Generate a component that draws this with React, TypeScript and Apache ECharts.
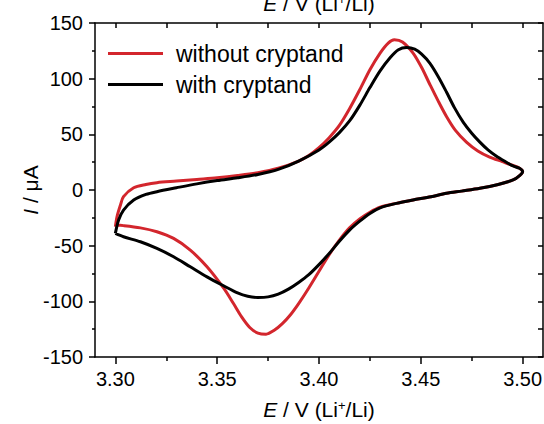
import React, { useEffect, useRef } from "react";
import * as echarts from "echarts";

const FONT = "'Liberation Sans', Arial, Helvetica, sans-serif";

// Potential axis ticks (V vs Li+/Li)
const xMajorTicks = [3.3, 3.35, 3.4, 3.45, 3.5];
const xMinorTicks = [3.325, 3.375, 3.425, 3.475];
const xAllTicks = [3.3, 3.325, 3.35, 3.375, 3.4, 3.425, 3.45, 3.475, 3.5];

const seriesNames = ["without cryptand", "with cryptand"];
const seriesColors = ["#d3262d", "#000000"];

// Cyclic voltammograms: [E / V, I / µA]
// Without cryptand: anodic sweep 3.30 -> 3.50 V
const redForward: [number, number][] = [
  [3.3, -33], [3.3008, -24], [3.3025, -13.5], [3.304, -6], [3.309, 2],
  [3.315, 5], [3.3204, 6.6], [3.33, 8], [3.34, 9.5], [3.35, 11],
  [3.36, 13], [3.37, 15.5], [3.38, 19.5], [3.39, 26], [3.395, 31],
  [3.4, 38], [3.405, 47], [3.41, 58], [3.415, 73], [3.42, 90],
  [3.425, 108], [3.43, 123], [3.434, 132], [3.437, 135], [3.441, 133],
  [3.4462, 123], [3.4504, 110], [3.4544, 95], [3.4585, 80], [3.4626, 66],
  [3.467, 53.5], [3.4724, 43], [3.478, 35], [3.4838, 29.5], [3.49, 25.5],
  [3.4953, 22], [3.4985, 19.5], [3.5, 16.5],
];
// Without cryptand: cathodic sweep 3.50 -> 3.30 V
const redReverse: [number, number][] = [
  [3.4985, 13], [3.4953, 9], [3.488, 5], [3.479, 1.5], [3.47, -1],
  [3.4626, -3], [3.455, -6], [3.4462, -9], [3.438, -12], [3.43, -15.5],
  [3.425, -20], [3.42, -26], [3.415, -34], [3.41, -45], [3.405, -58],
  [3.4, -73], [3.395, -88], [3.39, -102], [3.386, -112], [3.382, -120],
  [3.378, -126], [3.374, -129.5], [3.37, -128.5], [3.366, -123.5], [3.362, -114],
  [3.358, -102], [3.3531, -88], [3.345, -69], [3.3368, -54], [3.3286, -43.5],
  [3.3204, -37.5], [3.3123, -34], [3.304, -32], [3.3, -31.5],
];
// With cryptand: anodic sweep
const blackForward: [number, number][] = [
  [3.3, -39], [3.3016, -27], [3.304, -18], [3.309, -9], [3.315, -4],
  [3.3204, -1.5], [3.33, 2], [3.34, 5.5], [3.35, 8.5], [3.36, 11],
  [3.37, 14], [3.38, 18.5], [3.39, 26], [3.4, 36], [3.405, 43],
  [3.41, 51.5], [3.415, 62], [3.42, 76], [3.425, 92], [3.43, 107],
  [3.435, 119], [3.439, 126], [3.443, 128], [3.447, 126.5], [3.4504, 122],
  [3.4544, 114], [3.4585, 102], [3.4626, 88], [3.4665, 74], [3.4708, 61],
  [3.475, 51], [3.479, 43], [3.483, 36], [3.487, 30.5], [3.491, 26],
  [3.4953, 21.6], [3.4985, 19.5], [3.5, 16.5],
];
// With cryptand: cathodic sweep
const blackReverse: [number, number][] = [
  [3.4985, 13], [3.4953, 9], [3.488, 5], [3.479, 1.5], [3.47, -1],
  [3.4626, -3], [3.455, -6], [3.4462, -9], [3.438, -12], [3.43, -16],
  [3.425, -21], [3.42, -28], [3.415, -36], [3.41, -46], [3.405, -57],
  [3.4, -67], [3.395, -76], [3.39, -83], [3.385, -89], [3.38, -93.5],
  [3.375, -96], [3.37, -96.5], [3.365, -95.5], [3.36, -92.5], [3.3531, -86],
  [3.345, -78], [3.3368, -69], [3.3286, -60], [3.3204, -52.5], [3.3123, -46.5],
  [3.304, -42], [3.3, -39],
];

const X_MIN = 3.29;
const X_MAX = 3.51;

const lineStyle = { color: "#000", width: 1.5 };

const nameStyle = {
  fontSize: 21,
  fontFamily: FONT,
  color: "#000",
  rich: {
    i: { fontStyle: "italic", fontSize: 21, fontFamily: FONT, color: "#000" },
    sup: { fontSize: 13, fontFamily: FONT, color: "#000", verticalAlign: "top" },
  },
};

const xName = "{i|E} / V (Li{sup|+}/Li)";

export default function App() {
  const ref = useRef<HTMLDivElement>(null);

  useEffect(() => {
    if (!ref.current) return;
    const chart = echarts.init(ref.current, null, { renderer: "svg" });
    chart.setOption({
      animation: false,
      backgroundColor: "#fff",
      textStyle: { fontFamily: FONT },
      grid: { left: 95, right: 1, top: 23, bottom: 67, outerBoundsMode: "none", containLabel: false },
      legend: {
        data: seriesNames,
        orient: "vertical",
        left: 103,
        top: 36,
        icon: "rect",
        itemWidth: 55,
        itemHeight: 3,
        itemGap: 6,
        selectedMode: false,
        textStyle: {
          fontSize: 23,
          fontFamily: FONT,
          color: "#000",
          lineHeight: 25,
          padding: [0, 0, 0, 8],
        },
      },
      xAxis: [
        {
          type: "value",
          position: "bottom",
          min: X_MIN,
          max: X_MAX,
          axisLine: { show: true, onZero: false, lineStyle },
          axisTick: { show: true, customValues: xMajorTicks, length: 7, lineStyle },
          axisLabel: {
            customValues: xMajorTicks,
            formatter: (v: number) => v.toFixed(2),
            fontSize: 20,
            fontFamily: FONT,
            color: "#000",
            margin: 12,
          },
          splitLine: { show: false },
          name: xName,
          nameLocation: "middle",
          nameGap: 42,
          nameMoveOverlap: false,
          nameTextStyle: nameStyle,
        },
        {
          type: "value",
          position: "bottom",
          min: X_MIN,
          max: X_MAX,
          axisLine: { show: false, onZero: false },
          axisTick: { show: true, customValues: xMinorTicks, length: 4, lineStyle },
          axisLabel: { show: false },
          splitLine: { show: false },
        },
        {
          type: "value",
          position: "top",
          min: X_MIN,
          max: X_MAX,
          axisLine: { show: true, onZero: false, lineStyle },
          axisTick: { show: true, inside: true, customValues: xAllTicks, length: 5, lineStyle },
          axisLabel: { show: false },
          splitLine: { show: false },
          name: xName,
          nameLocation: "middle",
          nameGap: 9,
          nameMoveOverlap: false,
          nameTextStyle: nameStyle,
        },
      ],
      yAxis: [
        {
          type: "value",
          position: "left",
          min: -150,
          max: 150,
          interval: 50,
          axisLine: { show: true, onZero: false, lineStyle },
          axisTick: { show: true, length: 6, lineStyle },
          minorTick: { show: true, splitNumber: 2, length: 3, lineStyle },
          axisLabel: { fontSize: 20, fontFamily: FONT, color: "#000", margin: 12 },
          splitLine: { show: false },
          minorSplitLine: { show: false },
          name: "{i|I} / μA",
          nameLocation: "middle",
          nameGap: 54,
          nameMoveOverlap: false,
          nameTextStyle: nameStyle,
        },
        {
          type: "value",
          position: "right",
          min: -150,
          max: 150,
          interval: 25,
          axisLine: { show: true, onZero: false, lineStyle },
          axisTick: { show: true, inside: true, length: 5, lineStyle },
          axisLabel: { show: false },
          splitLine: { show: false },
        },
      ],
      series: [
        {
          name: seriesNames[0],
          type: "line",
          xAxisIndex: 0,
          yAxisIndex: 0,
          data: [...redForward, ...redReverse],
          showSymbol: false,
          symbol: "none",
          smooth: 0.3,
          color: seriesColors[0],
          lineStyle: { color: seriesColors[0], width: 3 },
        },
        {
          name: seriesNames[1],
          type: "line",
          xAxisIndex: 0,
          yAxisIndex: 0,
          data: [...blackForward, ...blackReverse],
          showSymbol: false,
          symbol: "none",
          smooth: 0.3,
          color: seriesColors[1],
          lineStyle: { color: seriesColors[1], width: 3 },
        },
      ],
    });
    return () => chart.dispose();
  }, []);

  return (
    <div
      ref={ref}
      style={{ position: "absolute", left: 0, top: 0, width: 544, height: 424 }}
    />
  );
}
